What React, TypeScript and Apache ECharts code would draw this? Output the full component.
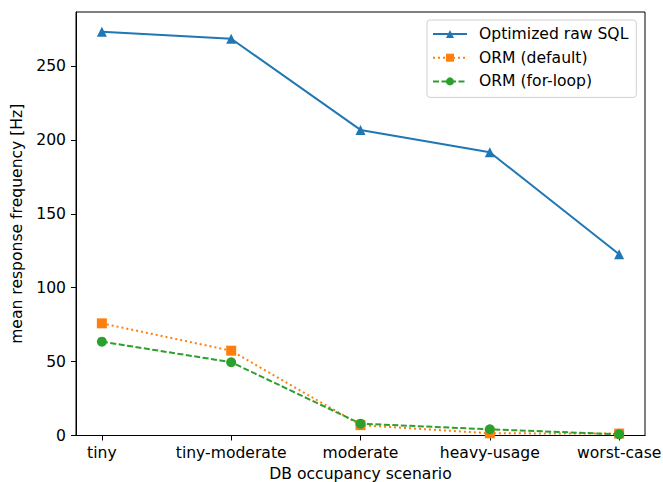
import React, { useEffect, useRef } from "react";
import * as echarts from "echarts";

const categories = ["tiny", "tiny-moderate", "moderate", "heavy-usage", "worst-case"];
const sqlValues = [273.3, 268.5, 206.8, 191.7, 122.6];
const ormDefaultValues = [75.9, 57.4, 7.0, 1.5, 1.3];
const ormForLoopValues = [63.5, 49.6, 8.0, 4.2, 0.8];
const yTicks = [0, 50, 100, 150, 200, 250];
const seriesNames = ["Optimized raw SQL", "ORM (default)", "ORM (for-loop)"];

const FONT = "DejaVu Sans";
const FS = 15.6;

const toPairs = (vals: number[]) => vals.map((v, i) => [i, v]);

export default function App() {
  const ref = useRef<HTMLDivElement>(null);
  useEffect(() => {
    if (!ref.current) return;
    const chart = echarts.init(ref.current, null, { renderer: "svg" });
    const xIdx = categories.map((_, i) => i);
    chart.setOption({
      animation: false,
      backgroundColor: "#fff",
      textStyle: { fontFamily: FONT },
      grid: {
        left: 76,
        top: 12,
        right: 18,
        bottom: 46.5,
        outerBoundsMode: "none",
        containLabel: false,
        show: true,
        borderColor: "#000",
        borderWidth: 1,
        backgroundColor: "transparent",
      },
      legend: {
        orient: "vertical",
        left: 427,
        top: 20,
        padding: [6, 8, 8, 5],
        itemGap: 7.7,
        itemWidth: 34,
        itemHeight: 10,
        borderColor: "#d0d0d0",
        borderWidth: 1,
        borderRadius: 3,
        backgroundColor: "rgba(255,255,255,0.8)",
        textStyle: { fontFamily: FONT, fontSize: FS, color: "#000", padding: [0, 0, 0, 7] },
        data: seriesNames,
      },
      xAxis: {
        type: "value",
        min: -0.2,
        max: 4.2,
        name: "DB occupancy scenario",
        nameLocation: "middle",
        nameGap: 30,
        nameTextStyle: { fontFamily: FONT, fontSize: FS, color: "#000" },
        splitLine: { show: false },
        axisLine: { show: true, onZero: false, lineStyle: { color: "#000", width: 1 } },
        axisTick: {
          show: true,
          inside: false,
          length: 5,
          lineStyle: { color: "#000", width: 1 },
          customValues: xIdx,
        },
        axisLabel: {
          fontFamily: FONT,
          fontSize: FS,
          color: "#000",
          margin: 9,
          customValues: xIdx,
          formatter: (v: number) => categories[Math.round(v)] ?? "",
        },
      },
      yAxis: {
        type: "value",
        min: 0,
        max: 286.6,
        name: "mean response frequency [Hz]",
        nameLocation: "middle",
        nameGap: 48,
        nameTextStyle: { fontFamily: FONT, fontSize: FS, color: "#000" },
        splitLine: { show: false },
        axisLine: { show: true, onZero: false, lineStyle: { color: "#000", width: 1 } },
        axisTick: {
          show: true,
          inside: false,
          length: 5,
          lineStyle: { color: "#000", width: 1 },
          customValues: yTicks,
        },
        axisLabel: {
          fontFamily: FONT,
          fontSize: FS,
          color: "#000",
          margin: 10,
          customValues: yTicks,
        },
      },
      series: [
        {
          name: seriesNames[0],
          type: "line",
          data: toPairs(sqlValues),
          symbol: "triangle",
          symbolSize: 10,
          color: "#1f77b4",
          lineStyle: { color: "#1f77b4", width: 2 },
          itemStyle: { color: "#1f77b4" },
        },
        {
          name: seriesNames[1],
          type: "line",
          data: toPairs(ormDefaultValues),
          symbol: "rect",
          symbolSize: 10,
          color: "#ff7f0e",
          lineStyle: { color: "#ff7f0e", width: 2, type: [2, 3] },
          itemStyle: { color: "#ff7f0e" },
        },
        {
          name: seriesNames[2],
          type: "line",
          data: toPairs(ormForLoopValues),
          symbol: "circle",
          symbolSize: 10,
          color: "#2ca02c",
          lineStyle: { color: "#2ca02c", width: 2, type: [6, 2.5] },
          itemStyle: { color: "#2ca02c" },
        },
      ],
    });
    return () => chart.dispose();
  }, []);
  return <div ref={ref} style={{ width: 663, height: 482, position: "absolute", left: 0, top: 0 }} />;
}
